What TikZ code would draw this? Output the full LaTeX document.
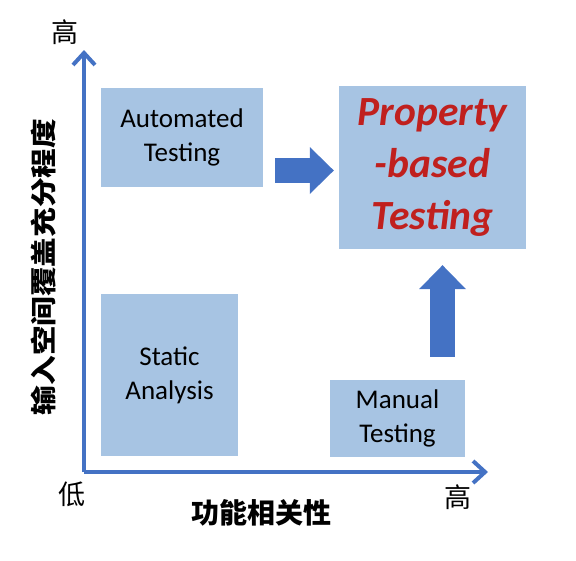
\documentclass[tikz,border=0pt]{standalone}
\usepackage{fontspec}
\setmainfont{Carlito}
\newfontfamily\cjk{Noto Sans CJK SC}
\usetikzlibrary{arrows.meta}
\definecolor{axisblue}{HTML}{4472C4}
\definecolor{boxblue}{HTML}{A7C4E3}
\definecolor{pbtred}{HTML}{C0201E}

\begin{document}
\begin{tikzpicture}[x=1pt,y=-1pt,
    box/.style={fill=boxblue,inner sep=0pt,align=center,font=\fontsize{27}{34}\selectfont},
    axis/.style={axisblue,line width=4pt,-{Straight Barb[length=12pt,width=22pt]}},
    blockarrow/.style={axisblue,line width=25pt,-{Triangle[length=24pt,width=47pt,line width=0pt]}},
    cjklabel/.style={font=\cjk\fontsize{27}{27}\selectfont,inner sep=0pt}]
  \useasboundingbox (0,0) rectangle (576,560);
  % axes
  \coordinate (O) at (84,472);
  \coordinate (ytop) at (84,50);
  \coordinate (xend) at (488,472);
  \draw[axis] (O) -- (ytop);
  \draw[axis] (O) -- (xend);
  \node[cjklabel] (yhigh) at (65,32) {高};
  \node[cjklabel] (low) at (72,494) {低};
  \node[cjklabel] (xhigh) at (458,497) {高};
  \node[cjklabel,font=\cjk\bfseries\fontsize{28}{28}\selectfont] (xlab) at (261,513) {功能相关性};
  \node[cjklabel,font=\cjk\bfseries\fontsize{26}{26}\selectfont,rotate=90,xscale=1.14] (ylab) at (44,267) {输入空间覆盖充分程度};
  % boxes
  \node[box,minimum width=162pt,minimum height=99pt] (auto) at (182,137.5) {Automated\\Testing};
  \node[box,minimum width=137pt,minimum height=162pt] (static) at (169.5,375) {Static\\Analysis};
  \node[box,minimum width=135pt,minimum height=77pt] (man) at (397.5,418.5) {Manual\\Testing};
  \node[box,minimum width=187pt,minimum height=163pt,text=pbtred,
        font=\fontsize{41.5}{52}\selectfont\bfseries\itshape] (pbt) at (432.5,167.5) {Property\\-based\\Testing};
  % block arrows
  \draw[blockarrow] ([shift={(12,33)}]auto.east) -- ([shift={(-5,3)}]pbt.west);
  \draw[blockarrow] ([shift={(45,-23)}]man.north) -- ([shift={(10,16)}]pbt.south);
\end{tikzpicture}
\end{document}
